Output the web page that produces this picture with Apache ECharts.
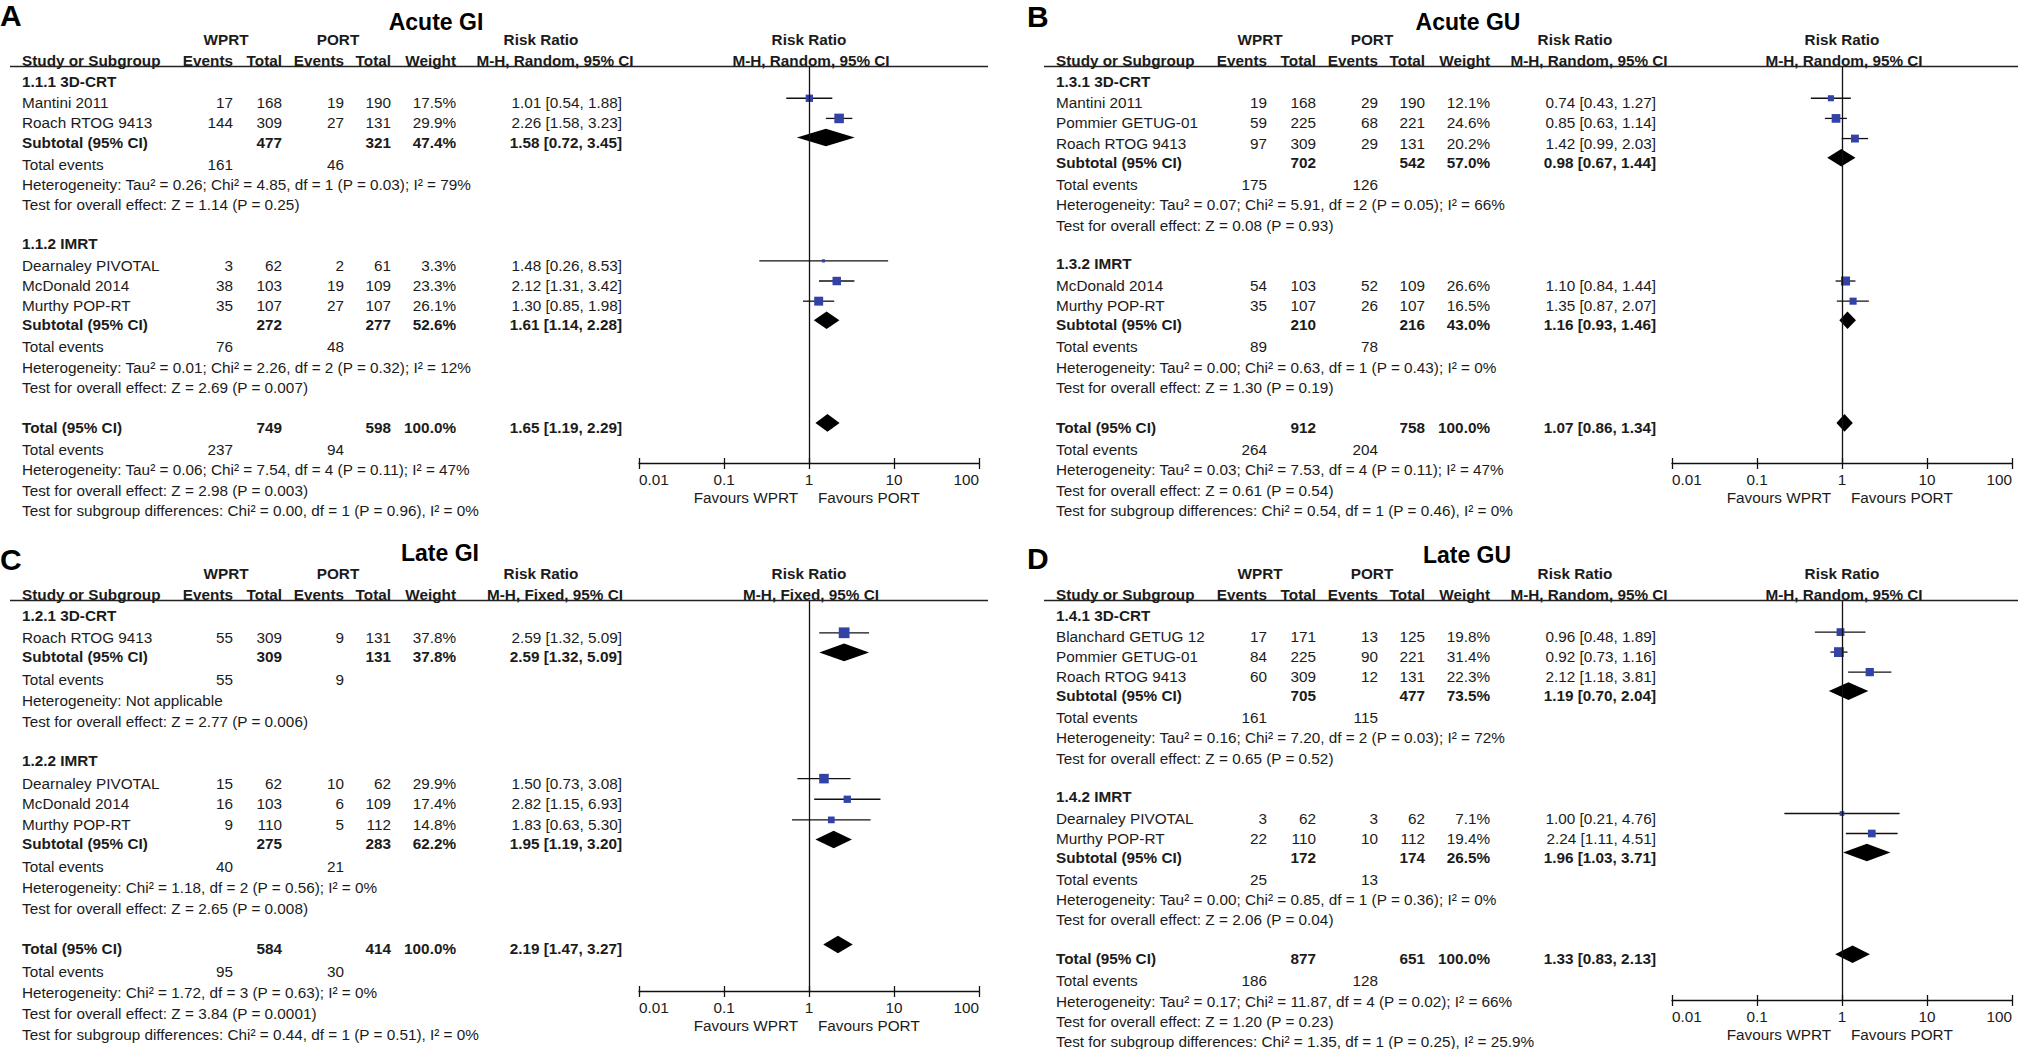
<!DOCTYPE html>
<html><head><meta charset="utf-8">
<script src="https://cdn.jsdelivr.net/npm/echarts@6/dist/echarts.min.js"></script>
<style>html,body{margin:0;padding:0;background:#fff;overflow:hidden}#c{width:2018px;height:1049px}</style>
</head><body><div id="c"></div>
<script>
// ================= DATA =================
const xTickLabels = ['0.01', '0.1', '1', '10', '100'];
const favoursLabels = ['Favours WPRT', 'Favours PORT'];

// ---- A: Acute GI ----
const aGI_title = 'Acute GI';
const aGI_method = 'M-H, Random, 95% CI';
const aGI_groups = ['1.1.1 3D-CRT', '1.1.2 IMRT'];
const aGI_study = ['Mantini 2011', 'Roach RTOG 9413', 'Dearnaley PIVOTAL', 'McDonald 2014', 'Murthy POP-RT'];
const aGI_grp = [0, 0, 1, 1, 1];
const aGI_wEv = [17, 144, 3, 38, 35];
const aGI_wN = [168, 309, 62, 103, 107];
const aGI_pEv = [19, 27, 2, 19, 27];
const aGI_pN = [190, 131, 61, 109, 107];
const aGI_wt = [17.5, 29.9, 3.3, 23.3, 26.1];
const aGI_rr = [1.01, 2.26, 1.48, 2.12, 1.30];
const aGI_lo = [0.54, 1.58, 0.26, 1.31, 0.85];
const aGI_hi = [1.88, 3.23, 8.53, 3.42, 1.98];
const aGI_subWN = [477, 272];
const aGI_subPN = [321, 277];
const aGI_subWt = [47.4, 52.6];
const aGI_subRR = [1.58, 1.61];
const aGI_subLo = [0.72, 1.14];
const aGI_subHi = [3.45, 2.28];
const aGI_subWEv = [161, 76];
const aGI_subPEv = [46, 48];
const aGI_subHet = ['Heterogeneity: Tau² = 0.26; Chi² = 4.85, df = 1 (P = 0.03); I² = 79%', 'Heterogeneity: Tau² = 0.01; Chi² = 2.26, df = 2 (P = 0.32); I² = 12%'];
const aGI_subZ = ['Test for overall effect: Z = 1.14 (P = 0.25)', 'Test for overall effect: Z = 2.69 (P = 0.007)'];
const aGI_totN = [749, 598];
const aGI_totWt = 100.0;
const aGI_totCI = [1.65, 1.19, 2.29];
const aGI_totEv = [237, 94];
const aGI_totNotes = ['Heterogeneity: Tau² = 0.06; Chi² = 7.54, df = 4 (P = 0.11); I² = 47%', 'Test for overall effect: Z = 2.98 (P = 0.003)', 'Test for subgroup differences: Chi² = 0.00, df = 1 (P = 0.96), I² = 0%'];

// ---- B: Acute GU ----
const aGU_title = 'Acute GU';
const aGU_method = 'M-H, Random, 95% CI';
const aGU_groups = ['1.3.1 3D-CRT', '1.3.2 IMRT'];
const aGU_study = ['Mantini 2011', 'Pommier GETUG-01', 'Roach RTOG 9413', 'McDonald 2014', 'Murthy POP-RT'];
const aGU_grp = [0, 0, 0, 1, 1];
const aGU_wEv = [19, 59, 97, 54, 35];
const aGU_wN = [168, 225, 309, 103, 107];
const aGU_pEv = [29, 68, 29, 52, 26];
const aGU_pN = [190, 221, 131, 109, 107];
const aGU_wt = [12.1, 24.6, 20.2, 26.6, 16.5];
const aGU_rr = [0.74, 0.85, 1.42, 1.10, 1.35];
const aGU_lo = [0.43, 0.63, 0.99, 0.84, 0.87];
const aGU_hi = [1.27, 1.14, 2.03, 1.44, 2.07];
const aGU_subWN = [702, 210];
const aGU_subPN = [542, 216];
const aGU_subWt = [57.0, 43.0];
const aGU_subRR = [0.98, 1.16];
const aGU_subLo = [0.67, 0.93];
const aGU_subHi = [1.44, 1.46];
const aGU_subWEv = [175, 89];
const aGU_subPEv = [126, 78];
const aGU_subHet = ['Heterogeneity: Tau² = 0.07; Chi² = 5.91, df = 2 (P = 0.05); I² = 66%', 'Heterogeneity: Tau² = 0.00; Chi² = 0.63, df = 1 (P = 0.43); I² = 0%'];
const aGU_subZ = ['Test for overall effect: Z = 0.08 (P = 0.93)', 'Test for overall effect: Z = 1.30 (P = 0.19)'];
const aGU_totN = [912, 758];
const aGU_totWt = 100.0;
const aGU_totCI = [1.07, 0.86, 1.34];
const aGU_totEv = [264, 204];
const aGU_totNotes = ['Heterogeneity: Tau² = 0.03; Chi² = 7.53, df = 4 (P = 0.11); I² = 47%', 'Test for overall effect: Z = 0.61 (P = 0.54)', 'Test for subgroup differences: Chi² = 0.54, df = 1 (P = 0.46), I² = 0%'];

// ---- C: Late GI ----
const lGI_title = 'Late GI';
const lGI_method = 'M-H, Fixed, 95% CI';
const lGI_groups = ['1.2.1 3D-CRT', '1.2.2 IMRT'];
const lGI_study = ['Roach RTOG 9413', 'Dearnaley PIVOTAL', 'McDonald 2014', 'Murthy POP-RT'];
const lGI_grp = [0, 1, 1, 1];
const lGI_wEv = [55, 15, 16, 9];
const lGI_wN = [309, 62, 103, 110];
const lGI_pEv = [9, 10, 6, 5];
const lGI_pN = [131, 62, 109, 112];
const lGI_wt = [37.8, 29.9, 17.4, 14.8];
const lGI_rr = [2.59, 1.50, 2.82, 1.83];
const lGI_lo = [1.32, 0.73, 1.15, 0.63];
const lGI_hi = [5.09, 3.08, 6.93, 5.30];
const lGI_subWN = [309, 275];
const lGI_subPN = [131, 283];
const lGI_subWt = [37.8, 62.2];
const lGI_subRR = [2.59, 1.95];
const lGI_subLo = [1.32, 1.19];
const lGI_subHi = [5.09, 3.20];
const lGI_subWEv = [55, 40];
const lGI_subPEv = [9, 21];
const lGI_subHet = ['Heterogeneity: Not applicable', 'Heterogeneity: Chi² = 1.18, df = 2 (P = 0.56); I² = 0%'];
const lGI_subZ = ['Test for overall effect: Z = 2.77 (P = 0.006)', 'Test for overall effect: Z = 2.65 (P = 0.008)'];
const lGI_totN = [584, 414];
const lGI_totWt = 100.0;
const lGI_totCI = [2.19, 1.47, 3.27];
const lGI_totEv = [95, 30];
const lGI_totNotes = ['Heterogeneity: Chi² = 1.72, df = 3 (P = 0.63); I² = 0%', 'Test for overall effect: Z = 3.84 (P = 0.0001)', 'Test for subgroup differences: Chi² = 0.44, df = 1 (P = 0.51), I² = 0%'];

// ---- D: Late GU ----
const lGU_title = 'Late GU';
const lGU_method = 'M-H, Random, 95% CI';
const lGU_groups = ['1.4.1 3D-CRT', '1.4.2 IMRT'];
const lGU_study = ['Blanchard GETUG 12', 'Pommier GETUG-01', 'Roach RTOG 9413', 'Dearnaley PIVOTAL', 'Murthy POP-RT'];
const lGU_grp = [0, 0, 0, 1, 1];
const lGU_wEv = [17, 84, 60, 3, 22];
const lGU_wN = [171, 225, 309, 62, 110];
const lGU_pEv = [13, 90, 12, 3, 10];
const lGU_pN = [125, 221, 131, 62, 112];
const lGU_wt = [19.8, 31.4, 22.3, 7.1, 19.4];
const lGU_rr = [0.96, 0.92, 2.12, 1.00, 2.24];
const lGU_lo = [0.48, 0.73, 1.18, 0.21, 1.11];
const lGU_hi = [1.89, 1.16, 3.81, 4.76, 4.51];
const lGU_subWN = [705, 172];
const lGU_subPN = [477, 174];
const lGU_subWt = [73.5, 26.5];
const lGU_subRR = [1.19, 1.96];
const lGU_subLo = [0.70, 1.03];
const lGU_subHi = [2.04, 3.71];
const lGU_subWEv = [161, 25];
const lGU_subPEv = [115, 13];
const lGU_subHet = ['Heterogeneity: Tau² = 0.16; Chi² = 7.20, df = 2 (P = 0.03); I² = 72%', 'Heterogeneity: Tau² = 0.00; Chi² = 0.85, df = 1 (P = 0.36); I² = 0%'];
const lGU_subZ = ['Test for overall effect: Z = 0.65 (P = 0.52)', 'Test for overall effect: Z = 2.06 (P = 0.04)'];
const lGU_totN = [877, 651];
const lGU_totWt = 100.0;
const lGU_totCI = [1.33, 0.83, 2.13];
const lGU_totEv = [186, 128];
const lGU_totNotes = ['Heterogeneity: Tau² = 0.17; Chi² = 11.87, df = 4 (P = 0.02); I² = 66%', 'Test for overall effect: Z = 1.20 (P = 0.23)', 'Test for subgroup differences: Chi² = 1.35, df = 1 (P = 0.25), I² = 25.9%'];

// ================= PANEL OBJECTS (built from the arrays) =================
const PANELS = [
  {title: aGI_title, method: aGI_method, groups: aGI_groups, study: aGI_study, grp: aGI_grp, wEv: aGI_wEv, wN: aGI_wN, pEv: aGI_pEv, pN: aGI_pN, wt: aGI_wt, rr: aGI_rr, lo: aGI_lo, hi: aGI_hi,
   subWN: aGI_subWN, subPN: aGI_subPN, subWt: aGI_subWt, subRR: aGI_subRR, subLo: aGI_subLo, subHi: aGI_subHi, subWEv: aGI_subWEv, subPEv: aGI_subPEv, subHet: aGI_subHet, subZ: aGI_subZ,
   totN: aGI_totN, totWt: aGI_totWt, totCI: aGI_totCI, totEv: aGI_totEv, totNotes: aGI_totNotes},
  {title: aGU_title, method: aGU_method, groups: aGU_groups, study: aGU_study, grp: aGU_grp, wEv: aGU_wEv, wN: aGU_wN, pEv: aGU_pEv, pN: aGU_pN, wt: aGU_wt, rr: aGU_rr, lo: aGU_lo, hi: aGU_hi,
   subWN: aGU_subWN, subPN: aGU_subPN, subWt: aGU_subWt, subRR: aGU_subRR, subLo: aGU_subLo, subHi: aGU_subHi, subWEv: aGU_subWEv, subPEv: aGU_subPEv, subHet: aGU_subHet, subZ: aGU_subZ,
   totN: aGU_totN, totWt: aGU_totWt, totCI: aGU_totCI, totEv: aGU_totEv, totNotes: aGU_totNotes},
  {title: lGI_title, method: lGI_method, groups: lGI_groups, study: lGI_study, grp: lGI_grp, wEv: lGI_wEv, wN: lGI_wN, pEv: lGI_pEv, pN: lGI_pN, wt: lGI_wt, rr: lGI_rr, lo: lGI_lo, hi: lGI_hi,
   subWN: lGI_subWN, subPN: lGI_subPN, subWt: lGI_subWt, subRR: lGI_subRR, subLo: lGI_subLo, subHi: lGI_subHi, subWEv: lGI_subWEv, subPEv: lGI_subPEv, subHet: lGI_subHet, subZ: lGI_subZ,
   totN: lGI_totN, totWt: lGI_totWt, totCI: lGI_totCI, totEv: lGI_totEv, totNotes: lGI_totNotes},
  {title: lGU_title, method: lGU_method, groups: lGU_groups, study: lGU_study, grp: lGU_grp, wEv: lGU_wEv, wN: lGU_wN, pEv: lGU_pEv, pN: lGU_pN, wt: lGU_wt, rr: lGU_rr, lo: lGU_lo, hi: lGU_hi,
   subWN: lGU_subWN, subPN: lGU_subPN, subWt: lGU_subWt, subRR: lGU_subRR, subLo: lGU_subLo, subHi: lGU_subHi, subWEv: lGU_subWEv, subPEv: lGU_subPEv, subHet: lGU_subHet, subZ: lGU_subZ,
   totN: lGU_totN, totWt: lGU_totWt, totCI: lGU_totCI, totEv: lGU_totEv, totNotes: lGU_totNotes}
];
const LETTERS = ['A', 'B', 'C', 'D'];

// ================= LAYOUT =================
const FONT = '"Liberation Sans", Arial, Helvetica, sans-serif';
const TXT = '#1b1b1b';
const BLUE = '#3342a6';
const GRID_W = 340;
const TXT_DY = 4.5;
const FS = 15.3;
const LAYOUT = [
  {x0: 0,    letterX: 0,    letterY: 15,  titleX: 436,  titleY: 22,  gridLeft: 639,  gridTop: 67,  axisY: 463, row0: 76.5,  unit: 20.15},
  {x0: 1034, letterX: 1027, letterY: 16,  titleX: 1468, titleY: 22,  gridLeft: 1672, gridTop: 67,  axisY: 463, row0: 76.5,  unit: 20.15},
  {x0: 0,    letterX: 0,    letterY: 559, titleX: 440,  titleY: 553, gridLeft: 639,  gridTop: 601, axisY: 991, row0: 610.5, unit: 20.63},
  {x0: 1034, letterX: 1027, letterY: 558, titleX: 1467, titleY: 555, gridLeft: 1672, gridTop: 601, axisY: 1000, row0: 610.5, unit: 20.0}
];
const COL = {name: 22, wEv: 233, wN: 282, pEv: 344, pN: 391, wt: 456, ci: 622, wprt: 226, port: 338, rrHead: 541, mhHead: 555};
const INC = {first: 1.08, study: 1.0, toSub: 0.95, subToTE: 1.1, line: 1.01, toGroup: 1.92, toTotal: 1.97};

const f2 = v => v.toFixed(2);
const ciText = (r, l, h) => `${f2(r)} [${f2(l)}, ${f2(h)}]`;
const wtText = w => w.toFixed(1) + '%';

function buildRows(P) {
  const rows = [];
  let u = 0;
  P.groups.forEach((g, gi) => {
    if (gi > 0) u += INC.toGroup;
    rows.push({u, type: 'group', g: gi});
    let k = 0;
    P.study.forEach((s, si) => {
      if (P.grp[si] !== gi) return;
      u += (k === 0 ? INC.first : INC.study); k++;
      rows.push({u, type: 'study', s: si});
    });
    u += INC.toSub; rows.push({u, type: 'sub', g: gi});
    u += INC.subToTE; rows.push({u, type: 'te', g: gi});
    u += INC.line; rows.push({u, type: 'het', g: gi});
    u += INC.line; rows.push({u, type: 'z', g: gi});
  });
  u += INC.toTotal; rows.push({u, type: 'total'});
  u += INC.subToTE; rows.push({u, type: 'tte'});
  P.totNotes.forEach((n, ni) => { u += INC.line; rows.push({u, type: 'note', n: ni}); });
  return rows;
}

function T(x, y, text, align, bold, size) {
  return {type: 'text', x: x, y: y, silent: true,
    style: {text: String(text), fill: TXT, fontSize: size || FS, fontFamily: FONT, fontWeight: bold ? 'bold' : 'normal',
      align: align, verticalAlign: 'middle', textAlign: align, textVerticalAlign: 'middle'}};
}

const grids = [], xAxes = [], yAxes = [], series = [], graphics = [];

PANELS.forEach((P, pi) => {
  const L = LAYOUT[pi];
  const rows = buildRows(P);
  const yMin = (L.gridTop - L.row0) / L.unit;
  const yMax = (L.axisY - L.row0) / L.unit;
  const gh = L.axisY - L.gridTop;
  grids.push({left: L.gridLeft, top: L.gridTop, width: GRID_W, height: gh, containLabel: false});
  const lineSt = {color: '#111', width: 1.3};
  // main axis: line, labels, ticks pointing down
  xAxes.push({type: 'log', logBase: 10, min: 0.01, max: 100, gridIndex: pi, position: 'bottom', offset: 0,
    splitLine: {show: false}, axisLine: {show: true, onZero: false, lineStyle: lineSt},
    axisTick: {show: true, inside: false, length: 6, lineStyle: lineSt},
    axisLabel: {show: true, fontSize: FS, color: TXT, fontFamily: FONT, margin: 9, alignMinLabel: 'left', alignMaxLabel: 'right',
      formatter: v => xTickLabels[Math.round(Math.log10(v)) + 2]}});
  // companion axis moved onto the same line: ticks pointing up
  xAxes.push({type: 'log', logBase: 10, min: 0.01, max: 100, gridIndex: pi, position: 'top', offset: -gh,
    splitLine: {show: false}, axisLine: {show: false, onZero: false},
    axisTick: {show: true, inside: false, length: 5, lineStyle: lineSt}, axisLabel: {show: false}});
  yAxes.push({type: 'value', gridIndex: pi, inverse: true, min: yMin, max: yMax, show: false, splitLine: {show: false}});
  const xi = 2 * pi, yi = pi;

  // study CI lines
  const studyRows = rows.filter(r => r.type === 'study');
  series.push({type: 'custom', xAxisIndex: xi, yAxisIndex: yi, silent: true, z: 3,
    data: studyRows.map(r => [P.rr[r.s], P.lo[r.s], P.hi[r.s], r.u]),
    encode: {x: [0, 1, 2], y: 3},
    renderItem: (params, api) => {
      const a = api.coord([api.value(1), api.value(3)]);
      const b = api.coord([api.value(2), api.value(3)]);
      return {type: 'line', shape: {x1: a[0], y1: a[1], x2: b[0], y2: b[1]}, style: {stroke: '#111', lineWidth: 1.3}};
    }});
  // study squares + line of no effect
  series.push({type: 'scatter', xAxisIndex: xi, yAxisIndex: yi, silent: true, z: 4, symbol: 'rect',
    data: studyRows.map(r => [P.rr[r.s], r.u, P.wt[r.s]]),
    symbolSize: v => Math.max(2.5, 1.75 * Math.sqrt(v[2])),
    itemStyle: {color: BLUE, opacity: 1},
    markLine: {silent: true, symbol: 'none', animation: false, label: {show: false},
      lineStyle: {color: '#111', width: 1.3, type: 'solid'}, data: [{xAxis: 1}]}});
  // diamonds
  const dia = [];
  rows.forEach(r => {
    if (r.type === 'sub') dia.push([P.subRR[r.g], P.subLo[r.g], P.subHi[r.g], r.u]);
    if (r.type === 'total') dia.push([P.totCI[0], P.totCI[1], P.totCI[2], r.u]);
  });
  series.push({type: 'custom', xAxisIndex: xi, yAxisIndex: yi, silent: true, z: 4,
    data: dia, encode: {x: [0, 1, 2], y: 3},
    renderItem: (params, api) => {
      const c = api.coord([api.value(0), api.value(3)]);
      const a = api.coord([api.value(1), api.value(3)]);
      const b = api.coord([api.value(2), api.value(3)]);
      const h = 8.8;
      return {type: 'polygon', shape: {points: [[a[0], c[1]], [c[0], c[1] - h], [b[0], c[1]], [c[0], c[1] + h]]}, style: {fill: '#000'}};
    }});

  // table text
  const items = [{type: 'header', u: 0}, {type: 'foot', u: yMax}].concat(rows);
  series.push({type: 'custom', xAxisIndex: xi, yAxisIndex: yi, silent: true, clip: false, z: 5,
    data: items.map(r => [1, r.u]), encode: {x: 0, y: 1},
    renderItem: (params, api) => {
      const r = items[params.dataIndex];
      const pt = api.coord([1, r.u]);
      const X = c => L.x0 + c;
      const ch = [];
      const y = pt[1] + TXT_DY;
      if (r.type === 'header') {
        const y1 = pt[1] - 37, y2 = pt[1] - 16;
        ch.push(T(X(COL.wprt), y1, 'WPRT', 'center', true));
        ch.push(T(X(COL.port), y1, 'PORT', 'center', true));
        ch.push(T(X(COL.rrHead), y1, 'Risk Ratio', 'center', true));
        ch.push(T(pt[0], y1, 'Risk Ratio', 'center', true));
        ch.push(T(X(COL.name), y2, 'Study or Subgroup', 'left', true));
        ch.push(T(X(COL.wEv), y2, 'Events', 'right', true));
        ch.push(T(X(COL.wN), y2, 'Total', 'right', true));
        ch.push(T(X(COL.pEv), y2, 'Events', 'right', true));
        ch.push(T(X(COL.pN), y2, 'Total', 'right', true));
        ch.push(T(X(COL.wt), y2, 'Weight', 'right', true));
        ch.push(T(X(COL.mhHead), y2, P.method, 'center', true));
        ch.push(T(pt[0] + 2, y2, P.method, 'center', true));
        const yl = L.gridTop - 0.5;
        ch.push({type: 'line', shape: {x1: X(10), y1: yl, x2: Math.min(2018, X(988)), y2: yl}, style: {stroke: '#222', lineWidth: 1.6}});
      } else if (r.type === 'foot') {
        ch.push(T(pt[0] - 11, pt[1] + 34, favoursLabels[0], 'right', false));
        ch.push(T(pt[0] + 9, pt[1] + 34, favoursLabels[1], 'left', false));
      } else if (r.type === 'group') {
        ch.push(T(X(COL.name), y, P.groups[r.g], 'left', true));
      } else if (r.type === 'study') {
        const s = r.s;
        ch.push(T(X(COL.name), y, P.study[s], 'left'));
        ch.push(T(X(COL.wEv), y, P.wEv[s], 'right'));
        ch.push(T(X(COL.wN), y, P.wN[s], 'right'));
        ch.push(T(X(COL.pEv), y, P.pEv[s], 'right'));
        ch.push(T(X(COL.pN), y, P.pN[s], 'right'));
        ch.push(T(X(COL.wt), y, wtText(P.wt[s]), 'right'));
        ch.push(T(X(COL.ci), y, ciText(P.rr[s], P.lo[s], P.hi[s]), 'right'));
      } else if (r.type === 'sub') {
        const g = r.g;
        ch.push(T(X(COL.name), y, 'Subtotal (95% CI)', 'left', true));
        ch.push(T(X(COL.wN), y, P.subWN[g], 'right', true));
        ch.push(T(X(COL.pN), y, P.subPN[g], 'right', true));
        ch.push(T(X(COL.wt), y, wtText(P.subWt[g]), 'right', true));
        ch.push(T(X(COL.ci), y, ciText(P.subRR[g], P.subLo[g], P.subHi[g]), 'right', true));
      } else if (r.type === 'te') {
        ch.push(T(X(COL.name), y, 'Total events', 'left'));
        ch.push(T(X(COL.wEv), y, P.subWEv[r.g], 'right'));
        ch.push(T(X(COL.pEv), y, P.subPEv[r.g], 'right'));
      } else if (r.type === 'het') {
        ch.push(T(X(COL.name), y, P.subHet[r.g], 'left'));
      } else if (r.type === 'z') {
        ch.push(T(X(COL.name), y, P.subZ[r.g], 'left'));
      } else if (r.type === 'total') {
        ch.push(T(X(COL.name), y, 'Total (95% CI)', 'left', true));
        ch.push(T(X(COL.wN), y, P.totN[0], 'right', true));
        ch.push(T(X(COL.pN), y, P.totN[1], 'right', true));
        ch.push(T(X(COL.wt), y, wtText(P.totWt), 'right', true));
        ch.push(T(X(COL.ci), y, ciText(P.totCI[0], P.totCI[1], P.totCI[2]), 'right', true));
      } else if (r.type === 'tte') {
        ch.push(T(X(COL.name), y, 'Total events', 'left'));
        ch.push(T(X(COL.wEv), y, P.totEv[0], 'right'));
        ch.push(T(X(COL.pEv), y, P.totEv[1], 'right'));
      } else if (r.type === 'note') {
        ch.push(T(X(COL.name), y, P.totNotes[r.n], 'left'));
      }
      return {type: 'group', children: ch};
    }});

  graphics.push({type: 'text', left: L.letterX, top: L.letterY - 15, silent: true,
    style: {text: LETTERS[pi], fill: '#000', fontSize: 30, fontWeight: 'bold', fontFamily: FONT}});
  graphics.push({type: 'text', x: L.titleX, y: L.titleY, silent: true,
    style: {text: P.title, fill: '#000', fontSize: 23, fontWeight: 'bold', fontFamily: FONT, align: 'center', verticalAlign: 'middle', textAlign: 'center', textVerticalAlign: 'middle'}});
});

const chart = echarts.init(document.getElementById('c'), null, {renderer: 'svg', width: 2018, height: 1049});
chart.setOption({
  animation: false,
  backgroundColor: '#ffffff',
  grid: grids, xAxis: xAxes, yAxis: yAxes, series: series, graphic: graphics
});
</script>
</body></html>
